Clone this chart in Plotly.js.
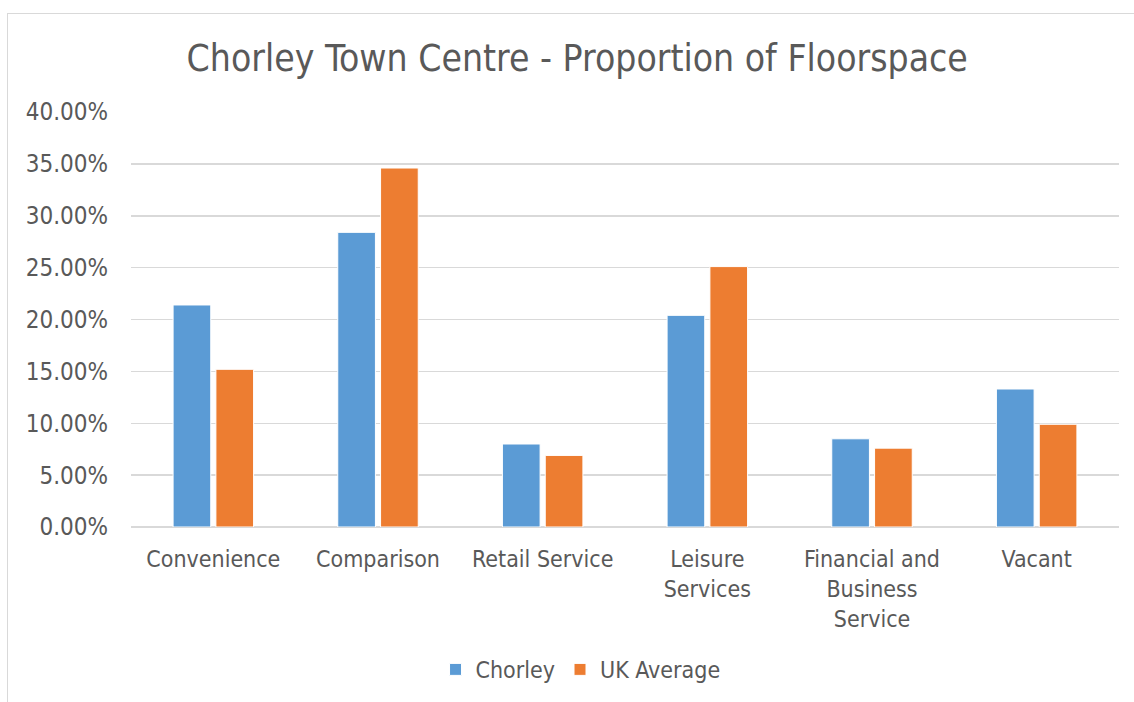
<!DOCTYPE html>
<html>
<head>
<meta charset="utf-8">
<script src="https://cdn.plot.ly/plotly-3.0.1.min.js"></script>
<style>
html,body{margin:0;padding:0;background:#fff;}
#wrap{position:relative;width:1134px;height:702px;overflow:hidden;}
#chart{position:absolute;left:0;top:0;width:1134px;height:702px;}
#frame{position:absolute;left:7px;top:13px;width:1140px;height:700px;border:1px solid #d9d9d9;pointer-events:none;}
</style>
</head>
<body>
<div id="wrap"><div id="chart"></div><div id="frame"></div></div>
<script>
const categories = ["Convenience", "Comparison", "Retail Service", "Leisure<br>Services", "Financial and<br>Business<br>Service", "Vacant"];
const chorley = [0.214, 0.284, 0.080, 0.204, 0.085, 0.133];
const ukAverage = [0.152, 0.346, 0.069, 0.251, 0.076, 0.099];
const yTicks = [0, 0.05, 0.10, 0.15, 0.20, 0.25, 0.30, 0.35, 0.40];

const FONT = "'DejaVu Sans Condensed', 'Liberation Sans Narrow', 'DejaVu Sans', sans-serif";
const TXT = "#595959";

const data = [
  {type: "bar", name: "Chorley", x: categories, y: chorley, marker: {color: "#5B9BD5", line: {color: "#ffffff", width: 1}}, hoverinfo: "x+y"},
  {type: "bar", name: "UK Average", x: categories, y: ukAverage, marker: {color: "#ED7D31", line: {color: "#ffffff", width: 1}}, hoverinfo: "x+y"}
];

const layout = {
  width: 1134, height: 702,
  paper_bgcolor: "rgba(0,0,0,0)", plot_bgcolor: "rgba(0,0,0,0)",
  margin: {l: 131, r: 15, t: 112, b: 174},
  font: {family: FONT, color: TXT, size: 22},
  title: {text: "Chorley Town Centre - Proportion of Floorspace", font: {family: FONT, size: 37, color: TXT}, x: 0.509, xanchor: "center", y: 0.917, yanchor: "middle"},
  barmode: "group",
  bargap: 0.48,
  bargroupgap: 0.12,
  xaxis: {
    type: "category", showgrid: false, zeroline: false, showline: false, ticks: "",
    tickfont: {family: FONT, size: 23, color: TXT}, ticklabelstandoff: 16
  },
  yaxis: {
    range: [0, 0.40], tickvals: yTicks, tickformat: ".2%",
    showgrid: true, gridcolor: "#d9d9d9", gridwidth: 1.5, zeroline: true, zerolinecolor: "#d9d9d9", zerolinewidth: 1.5,
    showline: false, ticks: "", tickfont: {family: FONT, size: 24, color: TXT}, ticklabelstandoff: 22
  },
  legend: {orientation: "h", x: 0.455, xanchor: "center", y: -0.34, yanchor: "middle", font: {family: FONT, size: 23, color: TXT}, itemwidth: 30, traceorder: "normal"},
  showlegend: true
};

Plotly.newPlot("chart", data, layout, {displayModeBar: false, staticPlot: true});
</script>
</body>
</html>
